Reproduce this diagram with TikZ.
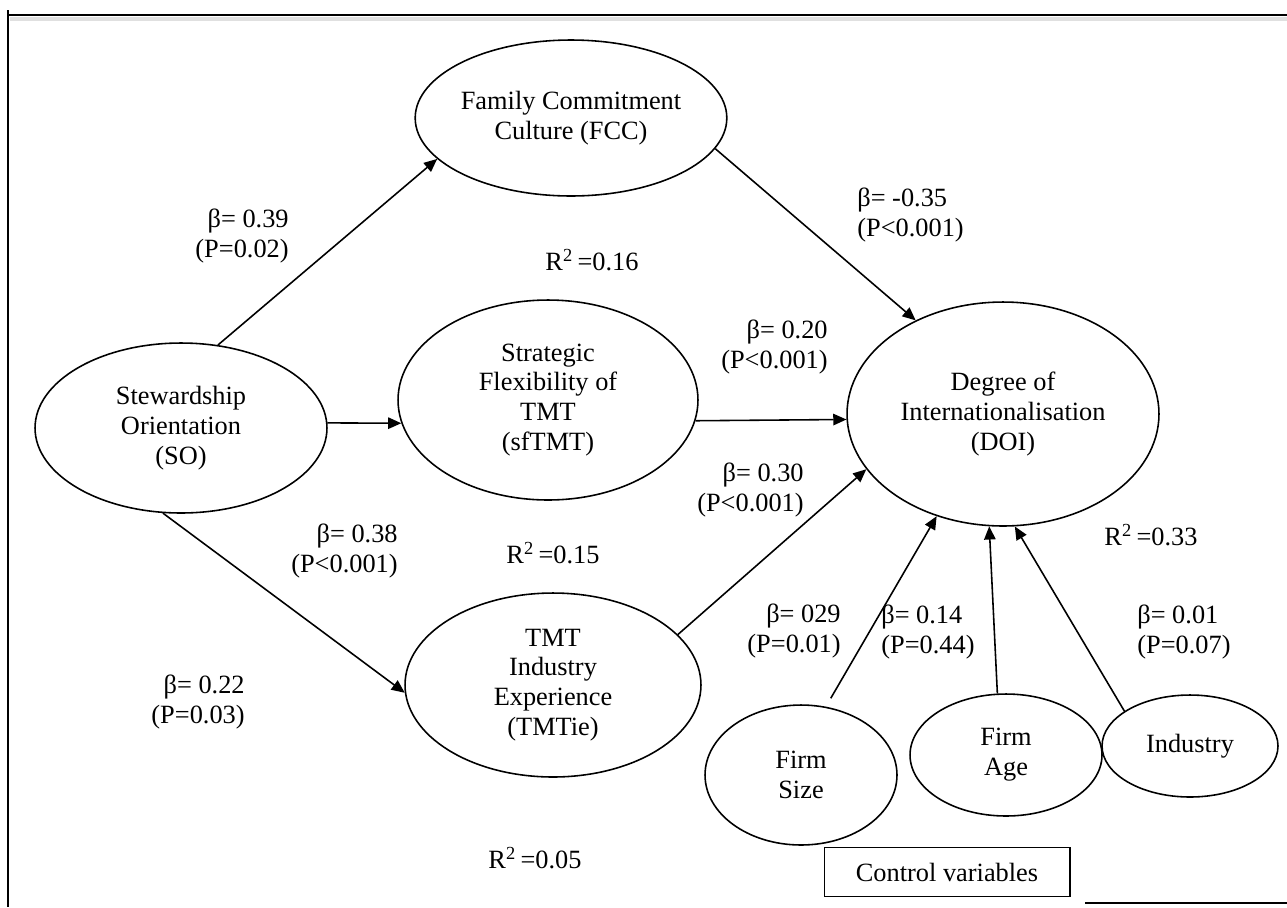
\documentclass[tikz,border=0pt]{standalone}
\usepackage{fontspec}
\setmainfont{Liberation Serif}
\usetikzlibrary{arrows.meta,shapes.geometric}

\begin{document}
\begin{tikzpicture}[x=0.02cm,y=-0.02cm,
    var/.style={draw,ellipse,line width=0.9pt,inner sep=0pt,align=center,font=\fontsize{15}{17}\selectfont},
    coef/.style={inner sep=0pt,align=left,font=\fontsize{15}{17}\selectfont},
    path/.style={line width=0.9pt,-{Triangle[length=7.5pt,width=6.5pt]}}]
    \useasboundingbox (0,0) rectangle (1287,907);
    % frame
    \draw[line width=2pt,black!12] (10,19) -- (1287,19);
    \draw[line width=1.2pt] (8,10) -- (8,907);
    \draw[line width=1.2pt] (7,15) -- (1287,15);
    \draw[line width=1.2pt] (1085,903) -- (1287,903);

    % constructs
    \node[var,minimum width=6.16cm,minimum height=3.12cm] (fcc) at (571,118) {Family Commitment\\Culture (FCC)};
    \node[var,minimum width=5.84cm,minimum height=3.4cm] (so) at (181,428) {Stewardship\\Orientation\\(SO)};
    \node[var,minimum width=6cm,minimum height=4cm] (sft) at (548,400) {Strategic\\Flexibility of\\TMT\\(sfTMT)};
    \node[var,minimum width=6.24cm,minimum height=4.48cm] (doi) at (1003,414) {Degree of\\Internationalisation\\(DOI)};
    \node[var,minimum width=5.92cm,minimum height=3.68cm] (tie) at (553,685) {TMT\\Industry\\Experience\\(TMTie)};
    \node[var,minimum width=3.84cm,minimum height=2.8cm] (fsize) at (801,775) {Firm\\Size};
    \node[var,minimum width=3.84cm,minimum height=2.44cm] (fage) at (1006,755) {Firm\\Age};
    \node[var,minimum width=3.52cm,minimum height=2.04cm] (ind) at (1190,746) {Industry};
    \node[draw,line width=0.6pt,minimum width=4.92cm,minimum height=0.98cm,font=\fontsize{15}{17}\selectfont] (ctrl) at (947,872) {Control variables};

    % paths
    \draw[path] (so.66) -- (fcc.197);
    \draw[path] (fcc.348) -- (doi.133);
    \draw[path] (so.2) -- (sft.189);
    \draw[path] (sft.352) -- (doi.182);
    \draw[path] (so.258) -- (tie.183);
    \draw[path] (tie.22) -- (doi.202);
    \draw[path,shorten <=5.5pt] (fsize.70) -- (doi.237);
    \draw[path] (fage.98) -- (doi.263);
    \draw[path] (ind.152) -- (doi.276);

    % coefficients
    \node[coef,anchor=east,align=right] (b39) at (289,236) {β= 0.39\\(P=0.02)};
    \node[coef] (r16) at (592,260) {R\textsuperscript{2}\,=0.16};
    \node[coef,anchor=west] (b35) at (857,215) {β= -0.35\\(P<0.001)};
    \node[coef,anchor=east,align=right] (b20) at (828,347) {β= 0.20\\(P<0.001)};
    \node[coef,anchor=east,align=right] (b30) at (804,490) {β= 0.30\\(P<0.001)};
    \node[coef] (r15) at (553,553) {R\textsuperscript{2}\,=0.15};
    \node[coef,anchor=east,align=right] (b38) at (398,551) {β= 0.38\\(P<0.001)};
    \node[coef,anchor=east,align=right] (b22) at (245,702) {β= 0.22\\(P=0.03)};
    \node[coef,anchor=east,align=right] (b29) at (841,631) {β= 029\\(P=0.01)};
    \node[coef,anchor=west] (b14) at (881,632) {β= 0.14\\(P=0.44)};
    \node[coef,anchor=west] (b01) at (1137,632) {β= 0.01\\(P=0.07)};
    \node[coef] (r33) at (1151,535) {R\textsuperscript{2}\,=0.33};
    \node[coef] (r05) at (535,858) {R\textsuperscript{2}\,=0.05};
\end{tikzpicture}
\end{document}
